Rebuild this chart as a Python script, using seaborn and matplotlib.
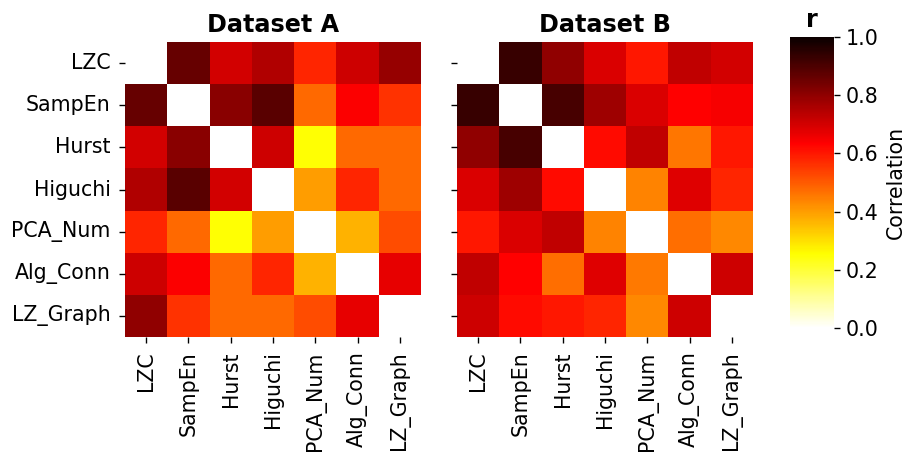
import matplotlib
matplotlib.use("Agg")
import matplotlib.pyplot as plt
import numpy as np
import pandas as pd
import seaborn as sns

# measure names, used for both axes
measures = ['LZC', 'SampEn', 'Hurst', 'Higuchi', 'PCA_Num', 'Alg_Conn', 'LZ_Graph']

# correlation values (diagonal left blank)
nan = np.nan
corr_a = [
    [nan, 0.86, 0.70, 0.75, 0.58, 0.71, 0.79],
    [0.86, nan, 0.81, 0.88, 0.48, 0.64, 0.56],
    [0.70, 0.81, nan, 0.71, 0.25, 0.48, 0.48],
    [0.75, 0.88, 0.70, nan, 0.40, 0.58, 0.48],
    [0.58, 0.48, 0.25, 0.40, nan, 0.37, 0.52],
    [0.71, 0.64, 0.48, 0.58, 0.37, nan, 0.67],
    [0.80, 0.56, 0.48, 0.48, 0.52, 0.67, nan],
]
corr_b = [
    [nan, 0.93, 0.80, 0.69, 0.60, 0.73, 0.70],
    [0.93, nan, 0.91, 0.78, 0.69, 0.635, 0.645],
    [0.80, 0.91, nan, 0.62, 0.73, 0.46, 0.60],
    [0.69, 0.78, 0.62, nan, 0.44, 0.68, 0.58],
    [0.60, 0.69, 0.73, 0.44, nan, 0.47, 0.43],
    [0.73, 0.635, 0.47, 0.68, 0.455, nan, 0.71],
    [0.71, 0.62, 0.60, 0.58, 0.43, 0.71, nan],
]
titles = ['Dataset A', 'Dataset B']

df_a = pd.DataFrame(corr_a, index=measures, columns=measures)
df_b = pd.DataFrame(corr_b, index=measures, columns=measures)

plt.rcParams['font.size'] = 12
fig = plt.figure(figsize=(909 / 123, 452 / 123), dpi=123)
ax_a = fig.add_axes([0.1375, 0.2544, 0.3256, 0.6527])
ax_b = fig.add_axes([0.5028, 0.2544, 0.3256, 0.6527])
cax = fig.add_axes([0.869, 0.274, 0.0484, 0.644])

sns.heatmap(df_a, ax=ax_a, cmap='hot_r', vmin=0, vmax=1, cbar=False)
sns.heatmap(df_b, ax=ax_b, cmap='hot_r', vmin=0, vmax=1, cbar_ax=cax,
            cbar_kws={'label': 'Correlation'}, yticklabels=False)

for ax, t in zip([ax_a, ax_b], titles):
    ax.set_title(t, fontsize=14, fontweight='bold')
    ax.tick_params(axis='x', labelrotation=90, labelsize=12, pad=5)
    ax.tick_params(axis='y', labelsize=12, pad=4.8)
ax_a.tick_params(axis='y', labelrotation=0)
ax_b.set_yticks(np.arange(len(measures)) + 0.5)
ax_b.set_yticklabels([])

cax.set_title('r', fontsize=14, fontweight='bold')
cax.set_yticks([0, 0.2, 0.4, 0.6, 0.8, 1.0])
cax.tick_params(labelsize=12)
cax.yaxis.label.set_size(12)

fig.savefig('out.png', dpi=123)
